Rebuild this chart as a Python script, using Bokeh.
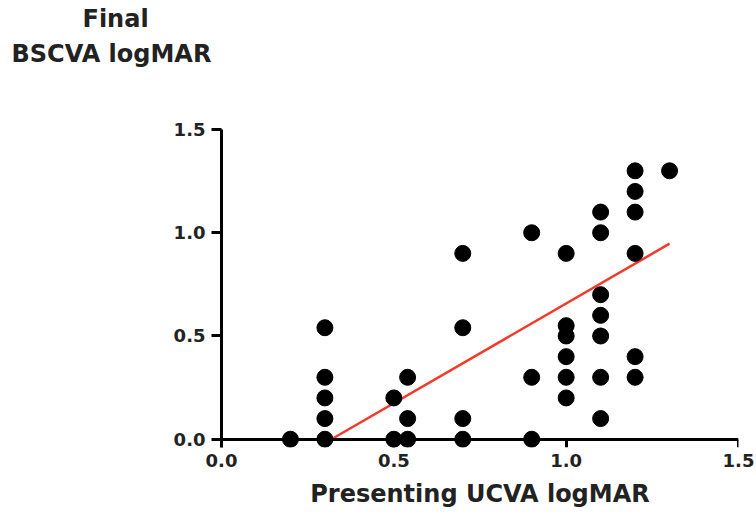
from bokeh.plotting import figure
from bokeh.models import (Range1d, FixedTicker, ColumnDataSource, CustomJSTickFormatter,
                          LinearAxis, Title)
from bokeh.embed import file_html
from bokeh.resources import INLINE

# Presenting UCVA logMAR (x) and Final BSCVA logMAR (y)
x_vals = [0.2,
          0.3, 0.3, 0.3, 0.3, 0.3,
          0.5, 0.5,
          0.54, 0.54, 0.54,
          0.7, 0.7, 0.7, 0.7,
          0.9, 0.9, 0.9,
          1.0, 1.0, 1.0, 1.0, 1.0, 1.0,
          1.1, 1.1, 1.1, 1.1, 1.1, 1.1, 1.1,
          1.2, 1.2, 1.2, 1.2, 1.2, 1.2,
          1.3]
y_vals = [0.0,
          0.54, 0.3, 0.2, 0.1, 0.0,
          0.2, 0.0,
          0.3, 0.1, 0.0,
          0.9, 0.54, 0.1, 0.0,
          1.0, 0.3, 0.0,
          0.9, 0.55, 0.5, 0.4, 0.3, 0.2,
          1.1, 1.0, 0.7, 0.6, 0.5, 0.3, 0.1,
          1.3, 1.2, 1.1, 0.9, 0.4, 0.3,
          1.3]

# regression line end points
fit_x = [0.319, 1.3]
fit_y = [0.0, 0.947]

x_ticks = [0.0, 0.5, 1.0, 1.5]
y_ticks = [0.0, 0.5, 1.0, 1.5]
x_title = "Presenting UCVA logMAR"
y_title_lines = ["Final", "BSCVA logMAR"]

FONT = "DejaVu Sans"
TXT = "#222222"

p = figure(width=756, height=512, output_backend="svg", toolbar_location=None,
           x_range=Range1d(0, 1.5), y_range=Range1d(-0.04, 1.5),
           min_border_left=221, min_border_right=18, min_border_top=129, min_border_bottom=65,
           x_axis_type=None)
p.outline_line_color = None
p.xgrid.visible = False
p.ygrid.visible = False

p.line(fit_x, fit_y, line_color="#f23a2b", line_width=2.5)
src = ColumnDataSource(dict(x=x_vals, y=y_vals))
p.scatter("x", "y", source=src, marker="circle", size=16, fill_color="black", line_color="black")

fmt = CustomJSTickFormatter(code="return tick.toFixed(1);")

# x axis: line and ticks at y = 0
xline = LinearAxis(fixed_location=0, ticker=FixedTicker(ticks=x_ticks), formatter=fmt)
xline.axis_line_width = 3
xline.major_tick_line_width = 3
xline.major_tick_out = 8
xline.major_tick_in = 0
xline.minor_tick_line_color = None
xline.major_label_text_color = None
p.add_layout(xline, "below")

# x axis: tick labels and title below the frame
xa = LinearAxis(ticker=FixedTicker(ticks=x_ticks), formatter=fmt)
xa.axis_line_color = None
xa.major_tick_line_color = None
xa.minor_tick_line_color = None
xa.major_tick_out = 0
xa.major_tick_in = 0
xa.major_label_text_font = FONT
xa.major_label_text_font_style = "bold"
xa.major_label_text_font_size = "18px"
xa.major_label_text_color = TXT
xa.major_label_standoff = 6
xa.axis_label = x_title
xa.axis_label_text_font = FONT
xa.axis_label_text_font_style = "bold"
xa.axis_label_text_font_size = "24px"
xa.axis_label_text_color = TXT
xa.axis_label_standoff = 10
p.add_layout(xa, "below")

ya = p.yaxis[0]
ya.ticker = FixedTicker(ticks=y_ticks)
ya.formatter = fmt
ya.axis_line_width = 3
ya.major_tick_line_width = 3
ya.major_tick_out = 10
ya.major_tick_in = 0
ya.minor_tick_line_color = None
ya.major_label_text_font = FONT
ya.major_label_text_font_style = "bold"
ya.major_label_text_font_size = "18px"
ya.major_label_text_color = TXT
ya.major_label_standoff = 6

# spacer (blank) above the frame, then the two-line y title
spacer = Title(text=" ", align="left", standoff=44, text_font_size="10px")
t2 = Title(text=y_title_lines[1], align="left", offset=-210, standoff=10,
           text_font=FONT, text_font_style="bold", text_font_size="24px", text_color=TXT)
t1 = Title(text=y_title_lines[0], align="left", offset=-139, standoff=0,
           text_font=FONT, text_font_style="bold", text_font_size="24px", text_color=TXT)
p.add_layout(spacer, "above")
p.add_layout(t2, "above")
p.add_layout(t1, "above")

open("out.html", "w").write(file_html(p, INLINE))
